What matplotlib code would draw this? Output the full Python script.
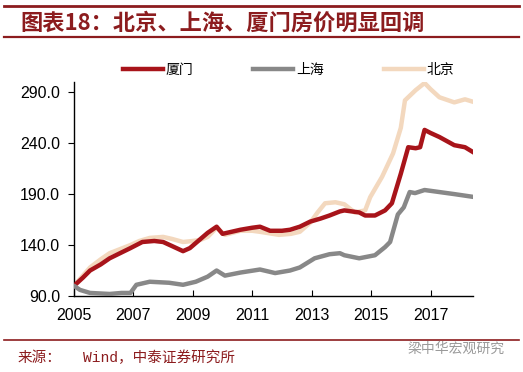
import matplotlib
matplotlib.use("Agg")
import matplotlib.pyplot as plt
from matplotlib.lines import Line2D

plt.rcParams['font.family'] = ['Liberation Sans', 'Noto Sans CJK SC', 'DejaVu Sans']

# ---- data ----
xm_x = [2005.0, 2005.3, 2005.54, 2005.9, 2006.2, 2006.55, 2006.9, 2007.3, 2007.7, 2008.0,
        2008.3, 2008.67, 2008.9, 2009.1, 2009.5, 2009.8, 2010.0, 2010.3, 2010.6, 2011.0,
        2011.26, 2011.6, 2012.0, 2012.27, 2012.6, 2012.95, 2013.3, 2013.6, 2013.95, 2014.1,
        2014.6, 2014.8, 2015.13, 2015.47, 2015.7, 2016.0, 2016.25, 2016.5, 2016.65, 2016.8,
        2017.0, 2017.3, 2017.8, 2018.16, 2018.5]
xm_y = [100, 108, 115, 121, 127, 132, 137, 143, 144, 143,
        139, 134, 137, 142, 152, 158, 151, 153, 155, 157,
        158, 154, 154, 155, 158, 163, 166, 169, 173, 174,
        172, 169, 169, 174, 181, 210, 236, 235, 236, 253,
        250, 246, 238, 236, 230]

sh_x = [2005.0, 2005.2, 2005.54, 2006.2, 2006.6, 2006.9, 2007.1, 2007.55, 2008.2, 2008.67,
        2009.1, 2009.5, 2009.8, 2010.08, 2010.6, 2011.26, 2011.77, 2012.27, 2012.6, 2013.1,
        2013.6, 2013.95, 2014.1, 2014.6, 2015.13, 2015.47, 2015.64, 2015.9, 2016.1, 2016.3,
        2016.48, 2016.8, 2017.3, 2017.8, 2018.5]
sh_y = [100, 96, 93, 92, 93, 93, 101, 104, 103, 101,
        104, 109, 115, 110, 113, 116, 112.5, 115, 118, 127,
        131, 132, 130, 127, 130, 138, 143, 170, 177, 192,
        191, 194, 192, 190, 187]

bj_x = [2005.0, 2005.3, 2005.54, 2005.9, 2006.2, 2006.55, 2006.9, 2007.2, 2007.55, 2008.0,
        2008.3, 2008.67, 2009.0, 2009.25, 2009.5, 2009.8, 2010.08, 2010.6, 2011.0, 2011.26,
        2011.9, 2012.3, 2012.6, 2012.95, 2013.2, 2013.45, 2013.8, 2013.95, 2014.1, 2014.45,
        2014.8, 2014.97, 2015.37, 2015.74, 2016.0, 2016.14, 2016.5, 2016.8, 2017.0, 2017.3,
        2017.8, 2018.16, 2018.5]
bj_y = [100, 110, 118, 126, 132, 136, 140, 144, 147, 148,
        146, 143, 144, 145, 148, 157, 150, 154, 154, 153,
        150, 151, 153, 162, 172, 181, 182, 181, 180, 172,
        174, 187, 207, 230, 255, 282, 292, 299, 293, 285,
        280, 283, 280]

series_names = ['厦门', '上海', '北京']
y_ticks = [90, 140, 190, 240, 290]
x_ticks = [2005, 2007, 2009, 2011, 2013, 2015, 2017]

c_xm = '#A8141A'
c_sh = '#888888'
c_bj = '#F3D8BE'
dark_red = '#8C1C1E'

fig = plt.figure(figsize=(5.23, 3.72), dpi=100)
ax = fig.add_axes([74/523, 1-296/372, (473-74)/523, (296-82)/372])

ax.plot(bj_x, bj_y, color=c_bj, lw=3.2, solid_capstyle='round', zorder=2)
ax.plot(xm_x, xm_y, color=c_xm, lw=3.2, solid_capstyle='round', zorder=3)
ax.plot(sh_x, sh_y, color=c_sh, lw=3.2, solid_capstyle='round', zorder=3)

ax.set_xlim(2005, 2018.43)
ax.set_ylim(90, 300)
ax.set_yticks(y_ticks)
ax.set_yticklabels([f'{v:.1f}' for v in y_ticks])
ax.set_xticks(x_ticks)
ax.set_xticklabels([str(v) for v in x_ticks])
for s in ['top', 'right']:
    ax.spines[s].set_visible(False)
for s in ['left', 'bottom']:
    ax.spines[s].set_color('black')
    ax.spines[s].set_linewidth(1.0)
ax.tick_params(axis='y', direction='out', length=4, labelsize=11.5, pad=6)
ax.tick_params(axis='x', direction='in', length=4, labelsize=11.5, pad=9)

handles = [Line2D([], [], color=c_xm, lw=3.2),
           Line2D([], [], color=c_sh, lw=3.2),
           Line2D([], [], color=c_bj, lw=3.2)]
leg = fig.legend(handles, series_names, ncol=3, frameon=False,
                 loc='center left', bbox_to_anchor=(110/523, 1-70/372),
                 handlelength=2.9, handletextpad=0.2, columnspacing=4.3,
                 prop={'family': ['Noto Sans CJK SC'], 'size': 10})

# title and decorations
fig.add_artist(Line2D([4/523, 519/523], [1-6/372, 1-6/372], color=dark_red, lw=2.0))
fig.add_artist(Line2D([4/523, 519/523], [1-37/372, 1-37/372], color=dark_red, lw=1.6))
fig.text(20/523, 1-23/372, '图表18：北京、上海、厦门房价明显回调', color=dark_red,
         fontsize=16, fontweight='bold', style='italic',
         family=['Noto Sans CJK SC', 'DejaVu Sans'], va='center', ha='left')

fig.add_artist(Line2D([4/523, 519/523], [1-340/372, 1-340/372], color=dark_red, lw=1.2))
fig.text(18/523, 1-358/372, '来源：', color=dark_red, fontsize=10.5,
         family=['Noto Sans CJK SC'], va='center', ha='left')
fig.text(83/523, 1-358/372, 'Wind，中泰证券研究所', color=dark_red, fontsize=10.5,
         family=['Liberation Mono', 'Noto Sans CJK SC'], va='center', ha='left')
fig.text(505/523, 1-349/372, '梁中华宏观研究', color='#9A9A9A', fontsize=10,
         family=['Noto Sans CJK SC'], va='center', ha='right')

fig.savefig('out.png', dpi=100)
